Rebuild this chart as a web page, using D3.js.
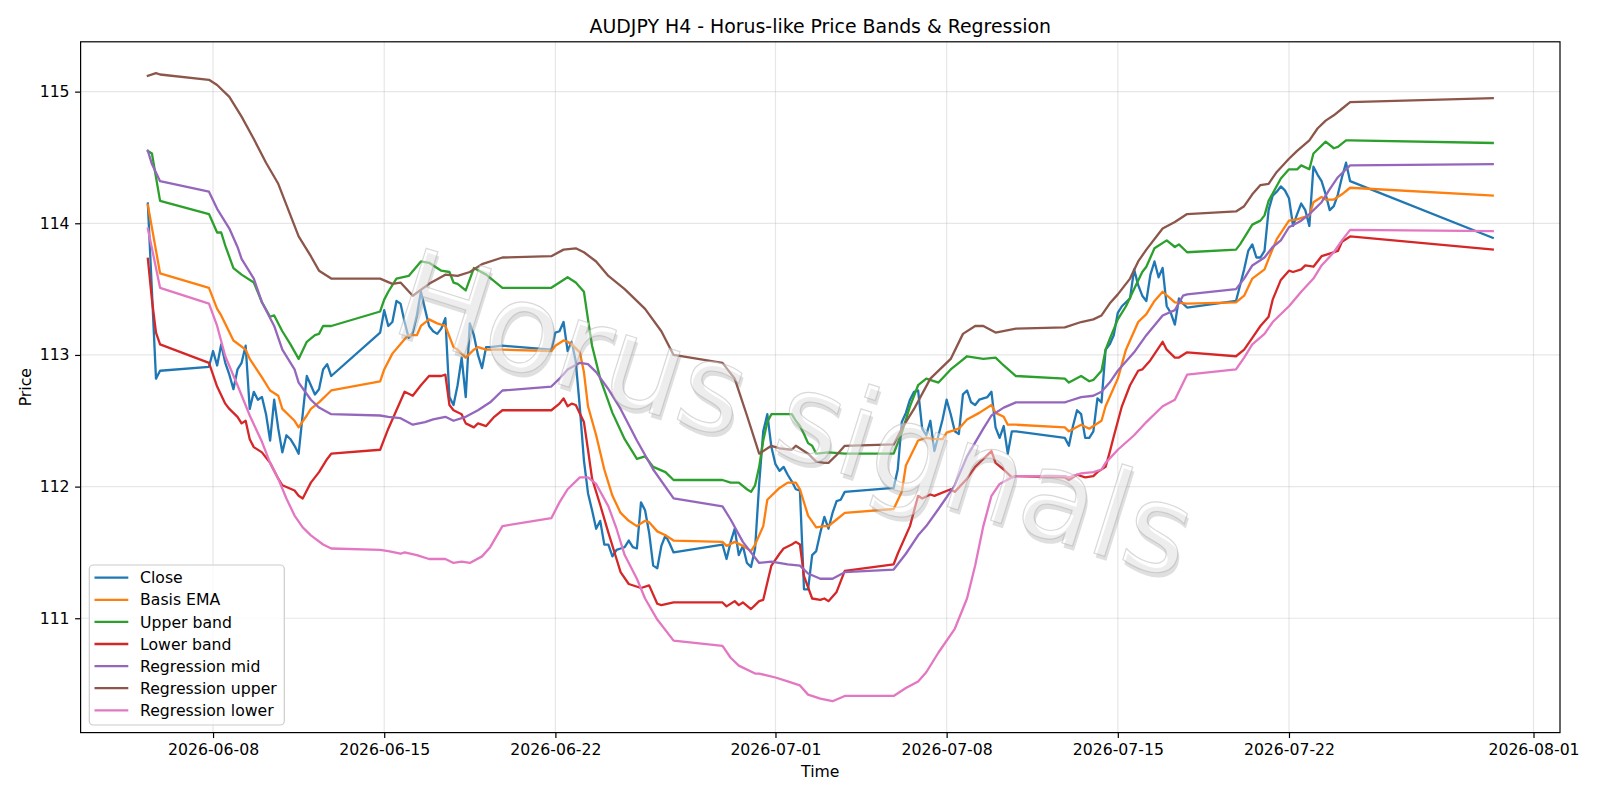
<!DOCTYPE html>
<html><head><meta charset="utf-8">
<script src="https://cdn.jsdelivr.net/npm/d3@7"></script>
<style>body{margin:0;background:#fff}svg{display:block}text{font-family:"DejaVu Sans",sans-serif}</style>
</head><body>
<svg id="chart" width="1600" height="800"></svg>
<script>
// ---- data (time "MM-DD HH" in 2026, value) ----
const closeData = [
["06-05 08",114.15],["06-05 16",112.82],["06-05 20",112.88],["06-07 20",112.91],
["06-08 00",113.03],["06-08 04",112.92],["06-08 08",113.08],["06-08 12",112.94],["06-08 16",112.85],["06-08 20",112.74],
["06-09 00",112.89],["06-09 04",112.94],["06-09 08",113.07],["06-09 12",112.59],["06-09 16",112.72],["06-09 20",112.66],
["06-10 00",112.68],["06-10 04",112.55],["06-10 08",112.35],["06-10 12",112.66],["06-10 16",112.44],["06-10 20",112.26],
["06-11 00",112.39],["06-11 04",112.36],["06-11 08",112.31],["06-11 12",112.25],["06-11 16",112.55],["06-11 20",112.84],
["06-12 00",112.77],["06-12 04",112.70],["06-12 08",112.74],["06-12 12",112.89],["06-12 16",112.93],["06-12 20",112.84],
["06-14 20",113.17],["06-15 00",113.34],["06-15 04",113.22],["06-15 08",113.25],["06-15 12",113.41],["06-15 16",113.39],["06-15 20",113.25],
["06-16 00",113.13],["06-16 04",113.17],["06-16 08",113.30],["06-16 12",113.48],["06-16 16",113.35],["06-16 20",113.22],
["06-17 00",113.18],["06-17 04",113.16],["06-17 08",113.20],["06-17 12",113.28],["06-17 16",112.68],["06-17 20",112.62],
["06-18 00",112.77],["06-18 04",112.98],["06-18 08",112.68],["06-18 12",113.24],["06-18 16",113.15],["06-18 20",113.00],
["06-19 00",112.90],["06-19 04",113.06],["06-19 08",113.06],["06-19 20",113.07],
["06-21 20",113.04],["06-22 00",113.17],["06-22 04",113.18],["06-22 08",113.25],["06-22 12",113.03],["06-22 16",113.10],["06-22 20",112.95],
["06-23 00",112.60],["06-23 04",112.20],["06-23 08",111.95],["06-23 12",111.82],["06-23 16",111.68],["06-23 20",111.74],
["06-24 00",111.56],["06-24 04",111.56],["06-24 08",111.47],["06-24 12",111.52],["06-24 16",111.53],["06-24 20",111.54],
["06-25 00",111.59],["06-25 04",111.54],["06-25 08",111.53],["06-25 12",111.88],["06-25 16",111.82],["06-25 20",111.65],
["06-26 00",111.40],["06-26 04",111.38],["06-26 08",111.55],["06-26 12",111.63],["06-26 16",111.57],["06-26 20",111.50],
["06-28 20",111.56],["06-29 00",111.45],["06-29 04",111.58],["06-29 08",111.68],["06-29 12",111.48],["06-29 16",111.55],["06-29 20",111.42],
["06-30 00",111.39],["06-30 04",111.53],["06-30 08",112.02],["06-30 12",112.42],["06-30 16",112.55],["06-30 20",112.30],
["07-01 00",112.17],["07-01 04",112.12],["07-01 08",112.15],["07-01 12",112.09],["07-01 16",112.04],["07-01 20",111.98],
["07-02 00",111.97],["07-02 04",111.22],["07-02 08",111.22],["07-02 12",111.48],["07-02 16",111.51],["07-02 20",111.65],
["07-03 00",111.77],["07-03 04",111.68],["07-03 08",111.80],["07-03 12",111.89],["07-03 16",111.90],["07-03 20",111.96],
["07-05 20",111.99],["07-06 00",112.13],["07-06 04",112.49],["07-06 08",112.56],["07-06 12",112.66],["07-06 16",112.72],["07-06 20",112.73],
["07-07 00",112.44],["07-07 04",112.39],["07-07 08",112.50],["07-07 12",112.27],["07-07 16",112.39],["07-07 20",112.51],
["07-08 00",112.66],["07-08 04",112.55],["07-08 08",112.42],["07-08 12",112.40],["07-08 16",112.70],["07-08 20",112.73],
["07-09 00",112.64],["07-09 04",112.62],["07-09 08",112.66],["07-09 12",112.67],["07-09 16",112.68],["07-09 20",112.72],
["07-10 00",112.45],["07-10 04",112.37],["07-10 08",112.46],["07-10 12",112.25],["07-10 16",112.42],["07-10 20",112.42],
["07-12 20",112.37],["07-13 00",112.31],["07-13 04",112.46],["07-13 08",112.58],["07-13 12",112.55],["07-13 16",112.37],["07-13 20",112.37],
["07-14 00",112.42],["07-14 04",112.67],["07-14 08",112.64],["07-14 12",113.04],["07-14 16",113.08],["07-14 20",113.15],
["07-15 00",113.32],["07-15 04",113.37],["07-15 08",113.40],["07-15 12",113.43],["07-15 16",113.65],["07-15 20",113.53],
["07-16 00",113.45],["07-16 04",113.41],["07-16 08",113.61],["07-16 12",113.71],["07-16 16",113.59],["07-16 20",113.66],
["07-17 00",113.37],["07-17 04",113.32],["07-17 08",113.23],["07-17 12",113.43],["07-17 16",113.39],["07-17 20",113.36],
["07-19 20",113.41],["07-20 00",113.53],["07-20 04",113.65],["07-20 08",113.79],["07-20 12",113.84],["07-20 16",113.74],["07-20 20",113.74],
["07-21 00",113.79],["07-21 04",114.10],["07-21 08",114.21],["07-21 12",114.24],["07-21 16",114.28],["07-21 20",114.25],
["07-22 00",114.19],["07-22 04",113.98],["07-22 08",114.07],["07-22 12",114.15],["07-22 16",114.10],["07-22 20",113.98],
["07-23 00",114.43],["07-23 04",114.37],["07-23 08",114.32],["07-23 12",114.22],["07-23 16",114.10],["07-23 20",114.13],
["07-24 00",114.22],["07-24 04",114.35],["07-24 08",114.46],["07-24 12",114.32],["07-30 08",113.89]
];
const basisData = [
["06-05 08",114.14],["06-05 20",113.62],["06-07 20",113.51],["06-08 04",113.35],["06-08 08",113.30],["06-08 20",113.11],
["06-09 08",113.04],["06-09 12",112.97],["06-10 00",112.83],["06-10 08",112.73],["06-10 16",112.69],["06-10 20",112.59],
["06-11 08",112.50],["06-11 12",112.45],["06-11 20",112.54],["06-12 00",112.59],["06-12 08",112.64],["06-12 20",112.73],
["06-14 20",112.80],["06-15 00",112.89],["06-15 08",113.01],["06-15 20",113.12],["06-16 00",113.15],["06-16 08",113.15],
["06-16 12",113.22],["06-16 20",113.27],["06-17 04",113.24],["06-17 12",113.22],["06-17 20",113.06],["06-18 00",113.04],
["06-18 08",112.98],["06-18 16",113.04],["06-18 20",113.06],["06-19 04",113.04],["06-19 20",113.04],
["06-21 20",113.03],["06-22 00",113.07],["06-22 08",113.11],["06-22 12",113.10],["06-22 16",113.08],["06-23 00",113.02],
["06-23 04",112.87],["06-23 08",112.61],["06-23 16",112.39],["06-24 00",112.13],["06-24 08",111.93],["06-24 16",111.80],
["06-25 00",111.74],["06-25 08",111.70],["06-25 16",111.74],["06-25 20",111.73],["06-26 04",111.66],["06-26 12",111.63],["06-26 20",111.59],
["06-28 20",111.58],["06-29 00",111.55],["06-29 08",111.58],["06-29 16",111.55],["06-30 00",111.51],["06-30 04",111.56],
["06-30 12",111.70],["06-30 16",111.90],["07-01 04",111.99],["07-01 12",112.03],["07-01 20",112.03],["07-02 00",111.98],
["07-02 08",111.78],["07-02 16",111.69],["07-03 00",111.70],["07-03 04",111.70],["07-03 12",111.75],["07-03 20",111.80],
["07-05 20",111.83],["07-06 04",111.96],["07-06 08",112.16],["07-06 20",112.35],["07-07 04",112.37],["07-07 12",112.36],
["07-07 20",112.36],["07-08 00",112.41],["07-08 12",112.44],["07-08 20",112.51],["07-09 08",112.56],["07-09 20",112.62],
["07-10 00",112.56],["07-10 08",112.53],["07-10 12",112.47],["07-10 20",112.47],
["07-12 20",112.45],["07-13 00",112.42],["07-13 12",112.47],["07-13 20",112.44],["07-14 08",112.50],["07-14 12",112.61],
["07-15 00",112.82],["07-15 08",113.04],["07-15 20",113.25],["07-16 04",113.31],["07-16 12",113.41],["07-16 20",113.48],
["07-17 08",113.40],["07-17 20",113.39],["07-19 20",113.40],["07-20 04",113.45],["07-20 12",113.58],["07-21 00",113.65],
["07-21 04",113.73],["07-21 12",113.88],["07-22 00",114.02],["07-22 08",114.03],["07-22 20",114.06],["07-23 00",114.16],
["07-23 08",114.20],["07-23 12",114.18],["07-23 20",114.18],["07-24 04",114.22],["07-24 12",114.27],["07-30 08",114.21]
];
const upperData = [
["06-05 08",114.55],["06-05 12",114.53],["06-05 20",114.17],["06-07 20",114.07],["06-08 04",113.93],["06-08 08",113.93],
["06-08 12",113.83],["06-08 20",113.66],["06-09 04",113.61],["06-09 16",113.55],["06-10 00",113.40],["06-10 08",113.29],
["06-10 12",113.30],["06-10 20",113.18],["06-11 04",113.08],["06-11 12",112.97],["06-11 20",113.10],["06-12 04",113.15],
["06-12 08",113.16],["06-12 12",113.22],["06-12 20",113.22],
["06-14 20",113.33],["06-15 00",113.42],["06-15 04",113.48],["06-15 12",113.58],["06-16 00",113.60],["06-16 12",113.71],
["06-16 20",113.70],["06-17 08",113.64],["06-17 16",113.63],["06-17 20",113.55],["06-18 00",113.54],["06-18 08",113.49],
["06-18 16",113.66],["06-19 04",113.61],["06-19 20",113.51],
["06-21 20",113.51],["06-22 04",113.55],["06-22 12",113.59],["06-22 20",113.55],["06-23 04",113.48],["06-23 08",113.27],
["06-23 12",113.07],["06-23 20",112.82],["06-24 08",112.56],["06-24 20",112.36],["06-25 08",112.21],["06-25 16",112.23],
["06-26 00",112.15],["06-26 12",112.11],["06-26 20",112.05],
["06-28 20",112.05],["06-29 04",112.03],["06-29 12",112.03],["06-29 20",111.98],["06-30 00",111.96],["06-30 04",112.01],
["06-30 08",112.15],["06-30 12",112.35],["06-30 16",112.49],["06-30 20",112.55],["07-01 16",112.55],["07-01 20",112.50],
["07-02 00",112.46],["07-02 04",112.40],["07-02 08",112.33],["07-02 12",112.31],["07-02 16",112.25],["07-03 04",112.26],["07-03 20",112.25],
["07-05 20",112.25],["07-06 04",112.41],["07-06 12",112.61],["07-06 20",112.77],["07-07 04",112.82],["07-07 16",112.79],
["07-08 04",112.89],["07-08 12",112.94],["07-08 20",112.99],["07-09 12",112.97],["07-10 00",112.98],["07-10 08",112.92],["07-10 20",112.84],
["07-12 20",112.82],["07-13 00",112.79],["07-13 12",112.84],["07-13 20",112.80],["07-14 00",112.81],["07-14 08",112.88],
["07-14 12",113.04],["07-14 16",113.12],["07-15 00",113.27],["07-15 08",113.37],["07-15 16",113.50],["07-16 00",113.63],
["07-16 04",113.67],["07-16 12",113.81],["07-17 00",113.87],["07-17 08",113.82],["07-17 12",113.84],["07-17 20",113.78],
["07-19 20",113.80],["07-20 00",113.84],["07-20 12",113.99],["07-20 20",114.02],["07-21 00",114.06],["07-21 04",114.17],
["07-21 16",114.34],["07-22 00",114.41],["07-22 08",114.41],["07-22 12",114.44],["07-22 20",114.41],["07-23 00",114.53],
["07-23 12",114.62],["07-23 20",114.57],["07-24 00",114.58],["07-24 08",114.63],["07-24 12",114.63],["07-30 08",114.61]
];
const lowerData = [
["06-05 08",113.73],["06-05 12",113.42],["06-05 16",113.17],["06-05 20",113.08],["06-07 20",112.94],["06-08 04",112.76],
["06-08 12",112.63],["06-08 16",112.59],["06-09 00",112.53],["06-09 04",112.48],["06-09 08",112.50],["06-09 12",112.36],
["06-09 16",112.30],["06-10 00",112.26],["06-10 08",112.18],["06-10 16",112.06],["06-10 20",112.01],["06-11 08",111.97],
["06-11 12",111.93],["06-11 16",111.91],["06-11 20",111.97],["06-12 00",112.03],["06-12 08",112.11],["06-12 16",112.21],["06-12 20",112.25],
["06-14 20",112.28],["06-15 00",112.36],["06-15 04",112.44],["06-15 12",112.58],["06-15 20",112.72],["06-16 04",112.69],
["06-16 12",112.77],["06-16 20",112.84],["06-17 08",112.84],["06-17 12",112.85],["06-17 16",112.62],["06-17 20",112.58],
["06-18 04",112.55],["06-18 08",112.48],["06-18 16",112.45],["06-18 20",112.48],["06-19 04",112.46],["06-19 12",112.53],["06-19 20",112.58],
["06-21 20",112.58],["06-22 04",112.63],["06-22 08",112.67],["06-22 12",112.61],["06-22 16",112.63],["06-22 20",112.62],
["06-23 04",112.49],["06-23 08",112.28],["06-23 12",112.06],["06-23 20",111.86],["06-24 04",111.65],["06-24 12",111.45],
["06-24 16",111.35],["06-25 00",111.26],["06-25 12",111.23],["06-25 20",111.25],["06-26 04",111.11],["06-26 08",111.10],["06-26 20",111.12],
["06-28 20",111.12],["06-29 00",111.09],["06-29 08",111.13],["06-29 12",111.10],["06-29 16",111.12],["06-30 00",111.07],
["06-30 04",111.10],["06-30 08",111.13],["06-30 12",111.14],["06-30 20",111.40],["07-01 04",111.49],["07-01 08",111.53],
["07-01 16",111.56],["07-01 20",111.58],["07-02 00",111.56],["07-02 04",111.32],["07-02 12",111.15],["07-02 20",111.14],
["07-03 00",111.15],["07-03 04",111.13],["07-03 12",111.20],["07-03 20",111.36],
["07-05 20",111.41],["07-06 00",111.49],["07-06 12",111.70],["07-06 20",111.93],["07-07 00",111.91],["07-07 08",111.94],
["07-07 12",111.93],["07-08 04",111.98],["07-08 08",111.96],["07-08 20",112.06],["07-09 04",112.15],["07-09 12",112.21],
["07-09 20",112.27],["07-10 00",112.18],["07-10 08",112.13],["07-10 16",112.07],["07-10 20",112.08],
["07-12 20",112.07],["07-13 00",112.05],["07-13 08",112.09],["07-13 16",112.07],["07-14 00",112.08],["07-14 04",112.11],
["07-14 12",112.15],["07-14 16",112.26],["07-14 20",112.38],["07-15 04",112.61],["07-15 12",112.77],["07-15 20",112.88],
["07-16 00",112.89],["07-16 08",112.96],["07-16 20",113.10],["07-17 00",113.04],["07-17 08",112.98],["07-17 12",112.98],["07-17 20",113.02],
["07-19 20",112.99],["07-20 04",113.04],["07-20 12",113.13],["07-20 20",113.22],["07-21 04",113.29],["07-21 08",113.42],
["07-21 16",113.57],["07-22 00",113.64],["07-22 04",113.63],["07-22 12",113.65],["07-22 16",113.68],["07-23 00",113.67],
["07-23 08",113.75],["07-23 16",113.77],["07-24 00",113.79],["07-24 04",113.86],["07-24 12",113.90],["07-30 08",113.80]
];
const regMidData = [
["06-05 08",114.55],["06-05 12",114.45],["06-05 20",114.32],["06-07 20",114.24],["06-08 04",114.11],["06-08 16",113.96],
["06-09 00",113.82],["06-09 04",113.73],["06-09 16",113.58],["06-10 00",113.40],["06-10 12",113.22],["06-10 20",113.04],
["06-11 08",112.89],["06-11 12",112.79],["06-12 00",112.66],["06-12 08",112.60],["06-12 20",112.55],
["06-14 20",112.54],["06-15 04",112.53],["06-15 16",112.52],["06-16 04",112.47],["06-16 16",112.49],["06-17 00",112.51],
["06-17 12",112.53],["06-17 20",112.50],["06-18 08",112.53],["06-18 20",112.58],["06-19 08",112.64],["06-19 20",112.73],
["06-21 20",112.76],["06-22 04",112.82],["06-22 12",112.89],["06-23 00",112.94],["06-23 08",112.93],["06-23 16",112.87],
["06-24 04",112.74],["06-24 16",112.59],["06-25 08",112.35],["06-26 00",112.13],["06-26 20",111.91],
["06-28 20",111.85],["06-29 04",111.75],["06-29 16",111.58],["06-30 08",111.42],["06-30 20",111.43],["07-01 12",111.41],
["07-02 00",111.40],["07-02 08",111.34],["07-02 20",111.30],["07-03 08",111.30],["07-03 20",111.35],
["07-05 20",111.37],["07-06 08",111.49],["07-06 20",111.63],["07-07 04",111.70],["07-07 16",111.83],["07-08 08",112.01],
["07-08 20",112.23],["07-09 12",112.44],["07-09 20",112.54],["07-10 08",112.60],["07-10 20",112.64],
["07-12 20",112.64],["07-13 00",112.65],["07-13 12",112.68],["07-14 00",112.69],["07-14 08",112.72],["07-14 16",112.79],
["07-15 00",112.88],["07-15 16",113.02],["07-16 04",113.15],["07-16 20",113.30],["07-17 08",113.34],["07-17 16",113.45],["07-17 20",113.46],
["07-19 20",113.50],["07-20 04",113.58],["07-20 12",113.68],["07-21 00",113.74],["07-21 08",113.82],["07-21 16",113.87],
["07-22 00",113.97],["07-22 12",114.02],["07-22 20",114.07],["07-23 08",114.16],["07-23 16",114.26],["07-24 00",114.35],
["07-24 12",114.44],["07-30 08",114.45]
];
const regUpperData = [
["06-05 08",115.12],["06-05 16",115.14],["06-05 20",115.13],["06-07 20",115.09],["06-08 04",115.05],["06-08 16",114.96],
["06-09 04",114.81],["06-09 16",114.64],["06-10 04",114.46],["06-10 16",114.30],["06-11 00",114.14],["06-11 12",113.90],
["06-12 00",113.75],["06-12 08",113.64],["06-12 20",113.58],
["06-14 20",113.58],["06-15 08",113.54],["06-15 16",113.55],["06-16 04",113.45],["06-16 20",113.54],["06-17 12",113.61],
["06-18 00",113.60],["06-18 12",113.63],["06-19 00",113.69],["06-19 20",113.74],
["06-21 20",113.75],["06-22 08",113.80],["06-22 20",113.81],["06-23 04",113.78],["06-23 16",113.71],["06-24 04",113.60],
["06-24 20",113.50],["06-25 16",113.35],["06-26 08",113.18],["06-26 20",113.00],
["06-28 20",112.94],["06-29 08",112.82],["06-29 20",112.54],["06-30 08",112.25],["06-30 20",112.31],["07-01 04",112.29],
["07-01 16",112.28],["07-01 20",112.31],["07-02 08",112.25],["07-02 16",112.19],["07-03 00",112.18],["07-03 04",112.18],
["07-03 12",112.24],["07-03 20",112.31],
["07-05 20",112.32],["07-06 04",112.44],["07-06 16",112.59],["07-07 08",112.82],["07-08 04",112.97],["07-08 16",113.16],
["07-09 04",113.22],["07-09 12",113.22],["07-10 00",113.17],["07-10 20",113.20],
["07-12 20",113.21],["07-13 12",113.25],["07-14 00",113.27],["07-14 08",113.30],["07-14 16",113.39],["07-15 00",113.46],
["07-15 12",113.58],["07-15 20",113.71],["07-16 04",113.80],["07-16 20",113.96],["07-17 08",114.01],["07-17 20",114.07],
["07-19 20",114.09],["07-20 04",114.13],["07-20 12",114.22],["07-20 20",114.29],["07-21 04",114.30],["07-21 12",114.39],
["07-22 00",114.49],["07-22 08",114.55],["07-22 20",114.63],["07-23 04",114.72],["07-23 12",114.78],["07-23 20",114.82],
["07-24 04",114.87],["07-24 12",114.92],["07-30 08",114.95]
];
const regLowerData = [
["06-05 08",113.96],["06-05 20",113.51],["06-07 20",113.39],["06-08 04",113.22],["06-08 12",112.99],["06-09 00",112.77],
["06-09 12",112.54],["06-10 00",112.34],["06-10 08",112.18],["06-10 16",112.06],["06-11 00",111.91],["06-11 08",111.78],
["06-11 16",111.69],["06-12 00",111.63],["06-12 12",111.56],["06-12 20",111.53],
["06-14 20",111.52],["06-15 04",111.51],["06-15 16",111.49],["06-15 20",111.50],["06-16 08",111.48],["06-16 20",111.45],
["06-17 12",111.45],["06-17 20",111.42],["06-18 04",111.43],["06-18 12",111.42],["06-19 00",111.47],["06-19 08",111.54],["06-19 20",111.70],
["06-21 20",111.76],["06-22 04",111.88],["06-22 12",111.98],["06-23 00",112.07],["06-23 08",112.07],["06-23 16",112.02],
["06-24 04",111.85],["06-24 12",111.68],["06-24 20",111.48],["06-25 08",111.30],["06-25 16",111.15],["06-26 04",110.99],["06-26 20",110.83],
["06-28 20",110.79],["06-29 04",110.70],["06-29 12",110.64],["06-30 04",110.58],["06-30 08",110.58],["07-01 00",110.55],
["07-01 12",110.52],["07-02 00",110.49],["07-02 08",110.42],["07-02 20",110.39],["07-03 08",110.37],["07-03 20",110.41],
["07-05 20",110.41],["07-06 08",110.47],["07-06 20",110.52],["07-07 04",110.59],["07-07 16",110.74],["07-08 08",110.92],
["07-08 20",111.15],["07-09 04",111.40],["07-09 12",111.70],["07-09 20",111.93],["07-10 04",112.02],["07-10 16",112.07],["07-10 20",112.08],
["07-12 20",112.08],["07-13 00",112.07],["07-13 12",112.10],["07-14 00",112.11],["07-14 08",112.13],["07-14 12",112.18],
["07-15 00",112.28],["07-15 16",112.39],["07-16 04",112.49],["07-16 20",112.61],["07-17 08",112.66],["07-17 20",112.85],
["07-19 20",112.89],["07-20 04",112.98],["07-20 12",113.08],["07-21 00",113.16],["07-21 08",113.25],["07-22 00",113.37],
["07-22 12",113.48],["07-23 00",113.58],["07-23 08",113.68],["07-23 20",113.78],["07-24 04",113.87],["07-24 12",113.95],["07-30 08",113.94]
];
const seriesNames  = ["Close","Basis EMA","Upper band","Lower band","Regression mid","Regression upper","Regression lower"];
const seriesColors = ["#1f77b4","#ff7f0e","#2ca02c","#d62728","#9467bd","#8c564b","#e377c2"];
const xTickDates = ["2026-06-08","2026-06-15","2026-06-22","2026-07-01","2026-07-08","2026-07-15","2026-07-22","2026-08-01"];
const yTickValues = [111,112,113,114,115];
const titleText = "AUDJPY H4 - Horus-like Price Bands & Regression";
const watermarkText = "Horus signals";

// ---- build ----
const parseT = d3.utcParse("%Y-%m-%d %H");
const toPts = arr => arr.map(([t,v]) => ({t: parseT("2026-" + t), v}));
const rawSeries = [closeData, basisData, upperData, lowerData, regMidData, regUpperData, regLowerData];
const series = rawSeries.map((arr,i) => ({name: seriesNames[i], color: seriesColors[i], pts: toPts(arr)}));

const FS = 15.7;          // base font size (px)
const LW = 2.3;           // series line width
const M = {left: 80.6, right: 1560, top: 41.8, bottom: 732.6};
const svg = d3.select("#chart");

const allPts = series.flatMap(s => s.pts);
const [tMin, tMax] = d3.extent(allPts, d => d.t);
const tPad = (tMax - tMin) * 0.05;
const x = d3.scaleUtc().domain([new Date(+tMin - tPad), new Date(+tMax + tPad)]).range([M.left, M.right]);
const [vMin, vMax] = d3.extent(allPts, d => d.v);
const vPad = (vMax - vMin) * 0.05;
const y = d3.scaleLinear().domain([vMin - vPad, vMax + vPad]).range([M.bottom, M.top]);

const xTicks = xTickDates.map(d3.utcParse("%Y-%m-%d"));

// grid
const grid = svg.append("g");
grid.selectAll("line.gx").data(xTicks).join("line")
  .attr("x1", d => x(d)).attr("x2", d => x(d)).attr("y1", M.top).attr("y2", M.bottom)
  .attr("stroke", "#b0b0b0").attr("stroke-opacity", 0.3).attr("stroke-width", 1.2);
grid.selectAll("line.gy").data(yTickValues).join("line")
  .attr("y1", d => y(d)).attr("y2", d => y(d)).attr("x1", M.left).attr("x2", M.right)
  .attr("stroke", "#b0b0b0").attr("stroke-opacity", 0.3).attr("stroke-width", 1.2);

// clip
svg.append("clipPath").attr("id", "clip").append("rect")
  .attr("x", M.left).attr("y", M.top).attr("width", M.right - M.left).attr("height", M.bottom - M.top);

const line = d3.line().x(d => x(d.t)).y(d => y(d.v));
const lines = svg.append("g").attr("clip-path", "url(#clip)");
series.forEach(s => {
  lines.append("path").datum(s.pts).attr("d", line)
    .attr("fill", "none").attr("stroke", s.color).attr("stroke-width", LW)
    .attr("stroke-linejoin", "round").attr("stroke-linecap", "square");
});

// watermark
const wm = svg.append("g").attr("transform", "translate(795,414) rotate(17.5)");
wm.append("text").attr("x", 3).attr("y", 4).attr("text-anchor", "middle").attr("dominant-baseline", "central")
  .attr("font-size", 123).attr("fill", "#808080").attr("fill-opacity", 0.25).text(watermarkText);
wm.append("text").attr("x", 0).attr("y", 0).attr("text-anchor", "middle").attr("dominant-baseline", "central")
  .attr("font-size", 123).attr("fill", "#ffffff").attr("fill-opacity", 0.45)
  .attr("stroke", "#a0a0a0").attr("stroke-opacity", 0.4).attr("stroke-width", 1.2).text(watermarkText);

// axes
const TL = 5.5;
const xAxis = d3.axisBottom(x).tickValues(xTicks).tickFormat(d3.utcFormat("%Y-%m-%d")).tickSize(TL).tickPadding(TL);
const gx = svg.append("g").attr("transform", `translate(0,${M.bottom})`).call(xAxis);
const yAxis = d3.axisLeft(y).tickValues(yTickValues).tickFormat(d3.format("d")).tickSize(TL).tickPadding(TL);
const gy = svg.append("g").attr("transform", `translate(${M.left},0)`).call(yAxis);
[gx, gy].forEach(g => {
  g.select(".domain").remove();
  g.selectAll(".tick line").attr("stroke", "#000").attr("stroke-width", 1.2);
  g.selectAll(".tick text").attr("fill", "#000").attr("font-size", FS).attr("font-family", "DejaVu Sans");
});

// spines
svg.append("rect").attr("x", M.left).attr("y", M.top).attr("width", M.right - M.left).attr("height", M.bottom - M.top)
  .attr("fill", "none").attr("stroke", "#000").attr("stroke-width", 1.2);

// labels
svg.append("text").attr("x", (M.left+M.right)/2).attr("y", 33).attr("text-anchor", "middle")
  .attr("font-size", 18.9).attr("fill", "#000").text(titleText);
svg.append("text").attr("x", (M.left+M.right)/2).attr("y", 777).attr("text-anchor", "middle")
  .attr("font-size", FS).attr("fill", "#000").text("Time");
svg.append("text").attr("transform", `translate(31.2,${(M.top+M.bottom)/2}) rotate(-90)`).attr("text-anchor", "middle")
  .attr("font-size", FS).attr("fill", "#000").text("Price");

// legend
const lg = svg.append("g");
lg.append("rect").attr("x", 89.3).attr("y", 565).attr("width", 195).attr("height", 160).attr("rx", 4)
  .attr("fill", "#fff").attr("fill-opacity", 0.8).attr("stroke", "#cccccc").attr("stroke-width", 1.2);
series.forEach((s, i) => {
  const yy = 577.7 + i * 22.1;
  lg.append("line").attr("x1", 94.5).attr("x2", 128.3).attr("y1", yy).attr("y2", yy)
    .attr("stroke", s.color).attr("stroke-width", LW);
  lg.append("text").attr("x", 140).attr("y", yy).attr("dy", "0.36em").attr("font-size", FS)
    .attr("fill", "#000").text(s.name);
});
</script>
</body></html>
